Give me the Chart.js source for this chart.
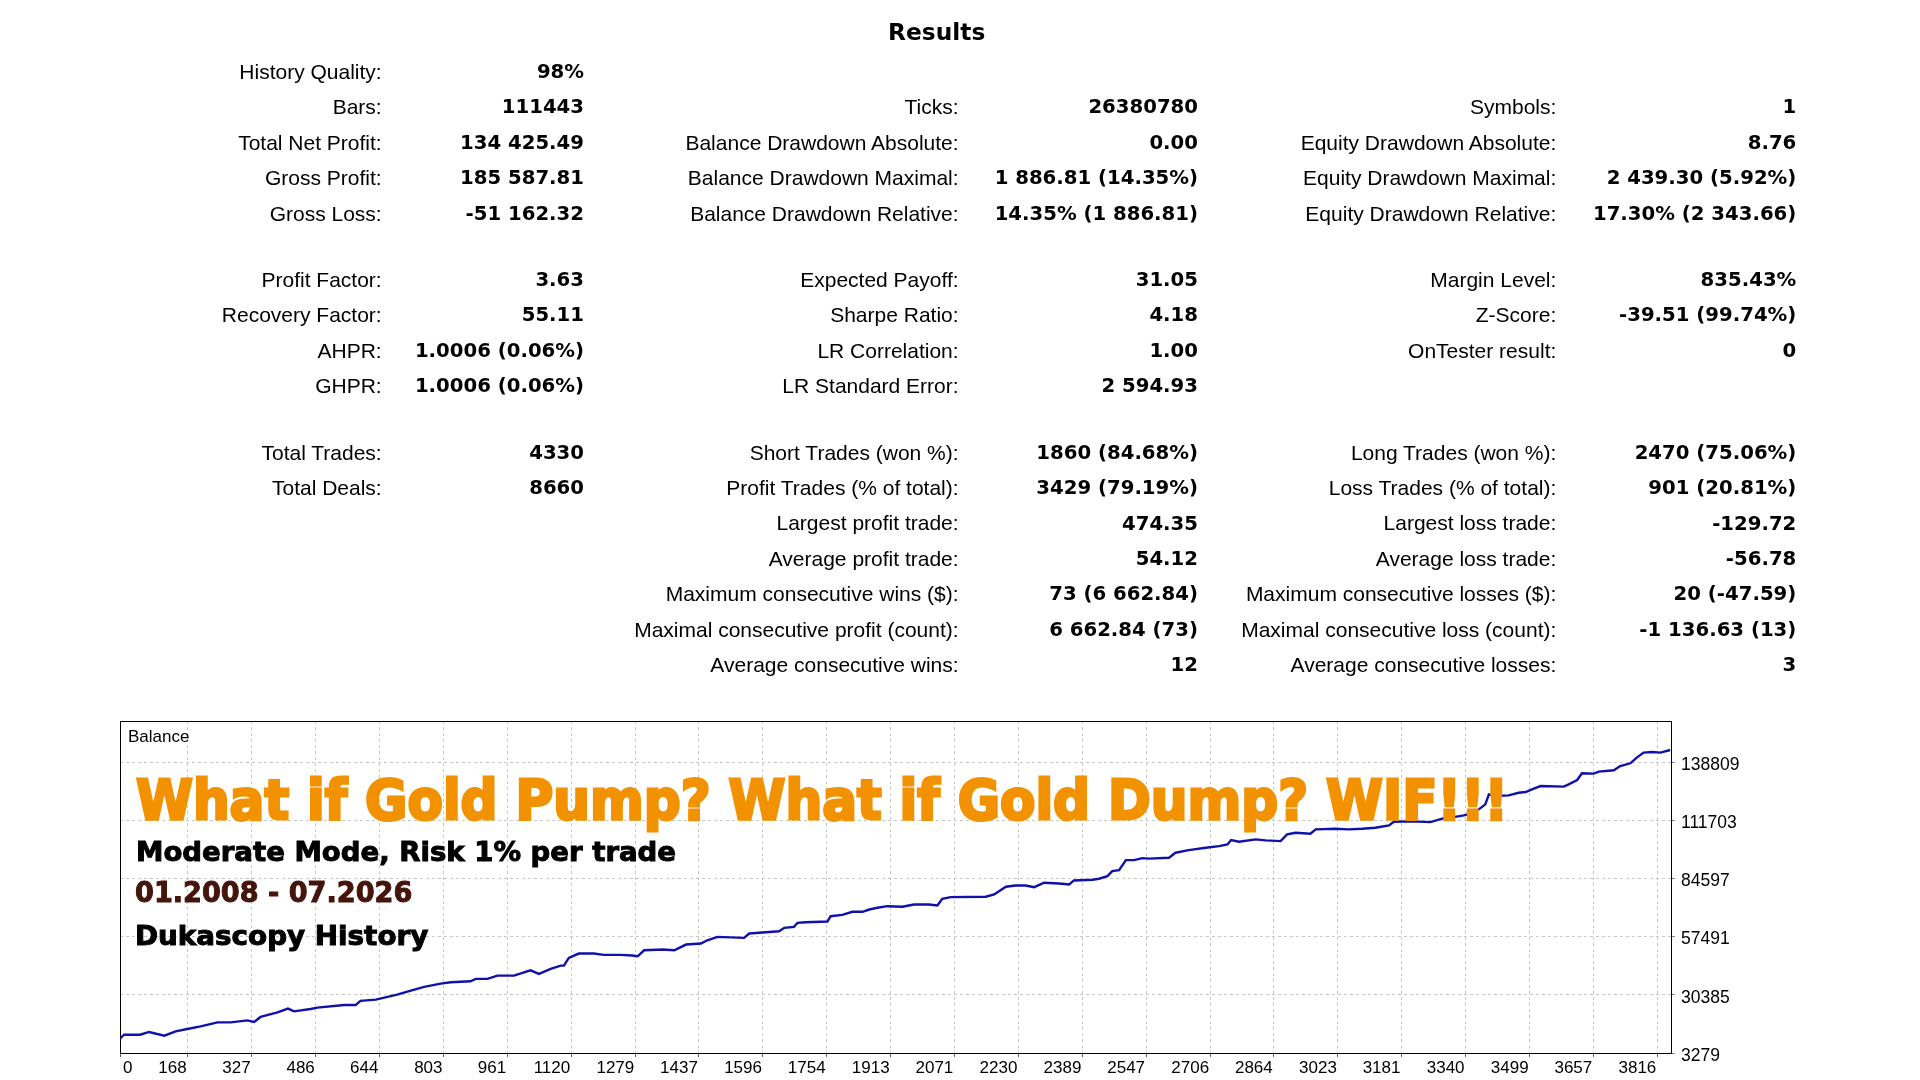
<!DOCTYPE html>
<html>
<head>
<meta charset="utf-8">
<title>Results</title>
<script src="https://cdn.jsdelivr.net/npm/chart.js@4.4.0/dist/chart.umd.min.js"></script>
<style>
  html, body { margin: 0; padding: 0; background: #fff; }
  #page { position: relative; width: 1920px; height: 1080px; overflow: hidden; }
  #balanceChart { position: absolute; left: 0; top: 0; }
  .t { position: absolute; white-space: nowrap; line-height: 1; }
  .lbl { font-family: 'Liberation Sans', Arial, sans-serif; font-size: 21px; color: #000; }
  .val { font-family: 'DejaVu Sans', Verdana, sans-serif; font-weight: bold; font-size: 19.7px; color: #000; }
  .title { font-family: 'DejaVu Sans', Verdana, sans-serif; font-weight: bold; font-size: 23.3px; color: #000; }
  .small { font-family: 'Liberation Sans', Arial, sans-serif; font-size: 17px; color: #000; }
  .big { font-family: 'DejaVu Sans', sans-serif; font-weight: bold; transform-origin: 0 0; }
</style>
</head>
<body>
<div id="page">
  <canvas id="balanceChart" width="1920" height="1080"></canvas>
</div>
<script>
// balance curve (trade number / balance)
var tradeNumbers = [0, 10, 50, 72, 110, 138, 167, 200, 242, 275, 316, 333, 349, 391, 417, 432, 473, 490, 556, 585,
  597, 635, 688, 722, 755, 796, 821, 870, 883, 912, 937, 978, 999, 1019, 1040, 1069, 1094, 1102, 1114, 1139,
  1176, 1201, 1243, 1271, 1285, 1301, 1347, 1376, 1405, 1442, 1458, 1483, 1549, 1562, 1636, 1649, 1673, 1682, 1702, 1756,
  1764, 1793, 1818, 1843, 1860, 1880, 1905, 1942, 1971, 2008, 2029, 2041, 2062, 2149, 2170, 2199, 2223, 2248, 2269, 2294,
  2331, 2356, 2368, 2414, 2430, 2451, 2463, 2480, 2497, 2517, 2538, 2554, 2604, 2620, 2653, 2695, 2728, 2749, 2758, 2778,
  2819, 2844, 2881, 2897, 2918, 2955, 2968, 3017, 3050, 3083, 3116, 3150, 3162, 3207, 3253, 3282, 3303, 3336, 3356, 3373,
  3389, 3398, 3414, 3447, 3472, 3489, 3505, 3526, 3584, 3596, 3617, 3629, 3658, 3671, 3708, 3724, 3749, 3765, 3782, 3803,
  3824, 3848];
var balanceValues = [10000, 11800, 11800, 13080, 11350, 13350, 14480, 15690, 17550, 17550, 18490, 17740, 20070, 22220, 23940, 22690, 23800, 24410, 25670, 25670,
  27540, 28150, 30480, 32340, 34070, 35610, 36220, 36680, 37800, 37800, 39340, 39340, 40600, 41810, 40130, 42470, 44000, 44000, 47600, 49600,
  49600, 49000, 49000, 48670, 48340, 51140, 51470, 51140, 53800, 54270, 55800, 57390, 56930, 58930, 60000, 61600, 62060, 63930, 64200, 64530,
  67000, 67650, 69050, 69050, 70130, 70920, 71670, 71390, 72460, 72460, 71990, 75120, 75870, 76060, 77130, 80720, 81330, 81330, 80530, 82580,
  82260, 81790, 83660, 83980, 84450, 85660, 87990, 88460, 93130, 93130, 94060, 93850, 94250, 96580, 97790, 98900, 99660, 100450, 102460, 101710,
  102780, 102320, 101990, 105110, 105900, 105440, 107450, 107770, 107450, 107770, 108240, 109310, 111040, 111180, 110850, 112440, 112900, 113980, 114910, 116780,
  119110, 123780, 122980, 123310, 124520, 124850, 126110, 127650, 127370, 128440, 130450, 133570, 133420, 134350, 134970, 136980, 138240, 140900, 143230, 143500,
  143230, 144425];

var xTickValues = [0, 168, 327, 486, 644, 803, 961, 1120, 1279, 1437, 1596, 1754, 1913, 2071, 2230, 2389, 2547, 2706, 2864, 3023, 3181, 3340, 3499, 3657, 3816];
var yTickValues = [3279, 30385, 57491, 84597, 111703, 138809];
var xMax = 3850;
var yMax = 157940;

// report table, three columns of [label, value]
var colLeft = [
  ['History Quality:', '98%'], ['Bars:', '111443'], ['Total Net Profit:', '134 425.49'], ['Gross Profit:', '185 587.81'], ['Gross Loss:', '-51 162.32'],
  ['Profit Factor:', '3.63'], ['Recovery Factor:', '55.11'], ['AHPR:', '1.0006 (0.06%)'], ['GHPR:', '1.0006 (0.06%)'],
  ['Total Trades:', '4330'], ['Total Deals:', '8660'], null, null, null, null, null
];
var colMid = [
  null, ['Ticks:', '26380780'], ['Balance Drawdown Absolute:', '0.00'], ['Balance Drawdown Maximal:', '1 886.81 (14.35%)'], ['Balance Drawdown Relative:', '14.35% (1 886.81)'],
  ['Expected Payoff:', '31.05'], ['Sharpe Ratio:', '4.18'], ['LR Correlation:', '1.00'], ['LR Standard Error:', '2 594.93'],
  ['Short Trades (won %):', '1860 (84.68%)'], ['Profit Trades (% of total):', '3429 (79.19%)'], ['Largest profit trade:', '474.35'],
  ['Average profit trade:', '54.12'], ['Maximum consecutive wins ($):', '73 (6 662.84)'], ['Maximal consecutive profit (count):', '6 662.84 (73)'],
  ['Average consecutive wins:', '12']
];
var colRight = [
  null, ['Symbols:', '1'], ['Equity Drawdown Absolute:', '8.76'], ['Equity Drawdown Maximal:', '2 439.30 (5.92%)'], ['Equity Drawdown Relative:', '17.30% (2 343.66)'],
  ['Margin Level:', '835.43%'], ['Z-Score:', '-39.51 (99.74%)'], ['OnTester result:', '0'], null,
  ['Long Trades (won %):', '2470 (75.06%)'], ['Loss Trades (% of total):', '901 (20.81%)'], ['Largest loss trade:', '-129.72'],
  ['Average loss trade:', '-56.78'], ['Maximum consecutive losses ($):', '20 (-47.59)'], ['Maximal consecutive loss (count):', '-1 136.63 (13)'],
  ['Average consecutive losses:', '3']
];

var page = document.getElementById('page');

function put(text, cls, x, base, align) {
  var el = document.createElement('div');
  el.className = 't ' + cls;
  el.textContent = text;
  page.appendChild(el);
  var fs = parseFloat(getComputedStyle(el).fontSize);
  el.style.top = (base - 0.846 * fs) + 'px';
  if (align === 'right') {
    el.style.right = (1920 - x) + 'px';
  } else if (align === 'center') {
    el.style.left = (x - el.getBoundingClientRect().width / 2) + 'px';
  } else {
    el.style.left = x + 'px';
  }
  return el;
}

// squeeze a heading to the width it has in the picture
function fit(el, w) {
  var r = el.getBoundingClientRect().width;
  el.style.transform = 'scaleX(' + (w / r) + ')';
}

put('Results', 'title', 936.7, 40, 'center');

function rowBase(i) {
  if (i <= 4) return 78.5 + i * 35.45;
  if (i <= 8) return 286.7 + (i - 5) * 35.45;
  return 459.3 + (i - 9) * 35.45;
}

[[colLeft, 381.7, 584], [colMid, 958.6, 1198], [colRight, 1556.3, 1796.3]].forEach(function (c) {
  c[0].forEach(function (row, i) {
    if (!row) return;
    put(row[0], 'lbl', c[1], rowBase(i), 'right');
    put(row[1], 'val', c[2], rowBase(i), 'right');
  });
});

put('Balance', 'small', 128, 742, 'left');

var h1 = put('What if Gold Pump? What if Gold Dump? WIF!!!', 'big', 135.7, 819, 'left');
h1.style.fontSize = '56px'; h1.style.top = (819 - 0.846 * 56) + 'px';
h1.style.color = '#f39200'; h1.style.webkitTextStroke = '3px #f39200';
fit(h1, 1372);

var h2 = put('Moderate Mode, Risk 1% per trade', 'big', 135.7, 860.7, 'left');
h2.style.fontSize = '27.4px'; h2.style.top = (860.7 - 0.846 * 27.4) + 'px';
h2.style.color = '#000'; h2.style.webkitTextStroke = '1px #000';
fit(h2, 540);

var h3 = put('01.2008 - 07.2026', 'big', 134.7, 903.3, 'left');
h3.style.fontSize = '28.2px'; h3.style.top = (903.3 - 0.846 * 28.2) + 'px';
h3.style.color = '#45140a'; h3.style.webkitTextStroke = '1px #45140a';
fit(h3, 277.3);

var h4 = put('Dukascopy History', 'big', 135.3, 945, 'left');
h4.style.fontSize = '27.4px'; h4.style.top = (945 - 0.846 * 27.4) + 'px';
h4.style.color = '#000'; h4.style.webkitTextStroke = '1px #000';
fit(h4, 293.3);

// frame round the plot area
var framePlugin = {
  id: 'frame',
  beforeDatasetsDraw: function (chart) {
    var a = chart.chartArea, ctx = chart.ctx;
    ctx.save();
    ctx.strokeStyle = '#000';
    ctx.lineWidth = 1;
    ctx.setLineDash([]);
    ctx.strokeRect(Math.round(a.left) + 0.5, Math.round(a.top) + 0.5, Math.round(a.right - a.left), Math.round(a.bottom - a.top));
    ctx.restore();
  }
};

// x labels sit to the left of their tick, the first one to the right
var xLabelPlugin = {
  id: 'xlabels',
  afterDraw: function (chart) {
    var sx = chart.scales.x, ctx = chart.ctx, y = chart.chartArea.bottom + 15;
    ctx.save();
    ctx.font = '17px "Liberation Sans", Arial, sans-serif';
    ctx.fillStyle = '#000';
    ctx.textBaseline = 'middle';
    xTickValues.forEach(function (v, i) {
      var px = sx.getPixelForValue(v);
      ctx.textAlign = i === 0 ? 'left' : 'right';
      ctx.fillText(String(v), i === 0 ? px + 3 : px - 1, y);
    });
    ctx.restore();
  }
};

var points = tradeNumbers.map(function (t, i) { return { x: t, y: balanceValues[i] }; });

new Chart(document.getElementById('balanceChart'), {
  type: 'line',
  data: {
    datasets: [{
      label: 'Balance',
      data: points,
      borderColor: '#1010aa',
      borderWidth: 2.4,
      pointRadius: 0,
      tension: 0,
      fill: false
    }]
  },
  options: {
    responsive: false,
    animation: false,
    devicePixelRatio: 1,
    layout: { padding: { left: 120, top: 721, right: 0, bottom: 0 }, autoPadding: false },
    plugins: { legend: { display: false }, tooltip: { enabled: false } },
    scales: {
      x: {
        type: 'linear', min: 0, max: xMax,
        afterBuildTicks: function (s) { s.ticks = xTickValues.map(function (v) { return { value: v }; }); },
        afterFit: function (s) { s.height = 27; },
        ticks: { display: false },
        grid: { color: '#c8c8c8', tickColor: '#606060', tickLength: 4 },
        border: { display: true, color: '#000', dash: [3, 3] }
      },
      y: {
        position: 'right', min: yTickValues[0], max: yMax,
        afterBuildTicks: function (s) { s.ticks = yTickValues.map(function (v) { return { value: v }; }); },
        afterFit: function (s) { s.width = 249; },
        ticks: {
          autoSkip: false, padding: 6, color: '#000', labelOffset: 3,
          font: { family: 'Liberation Sans', size: 17.5 },
          callback: function (v) { return String(v); }
        },
        grid: { color: '#c8c8c8', tickColor: '#808080', tickLength: 4 },
        border: { display: true, color: '#000', dash: [3, 3] }
      }
    }
  },
  plugins: [framePlugin, xLabelPlugin]
});
</script>
</body>
</html>
